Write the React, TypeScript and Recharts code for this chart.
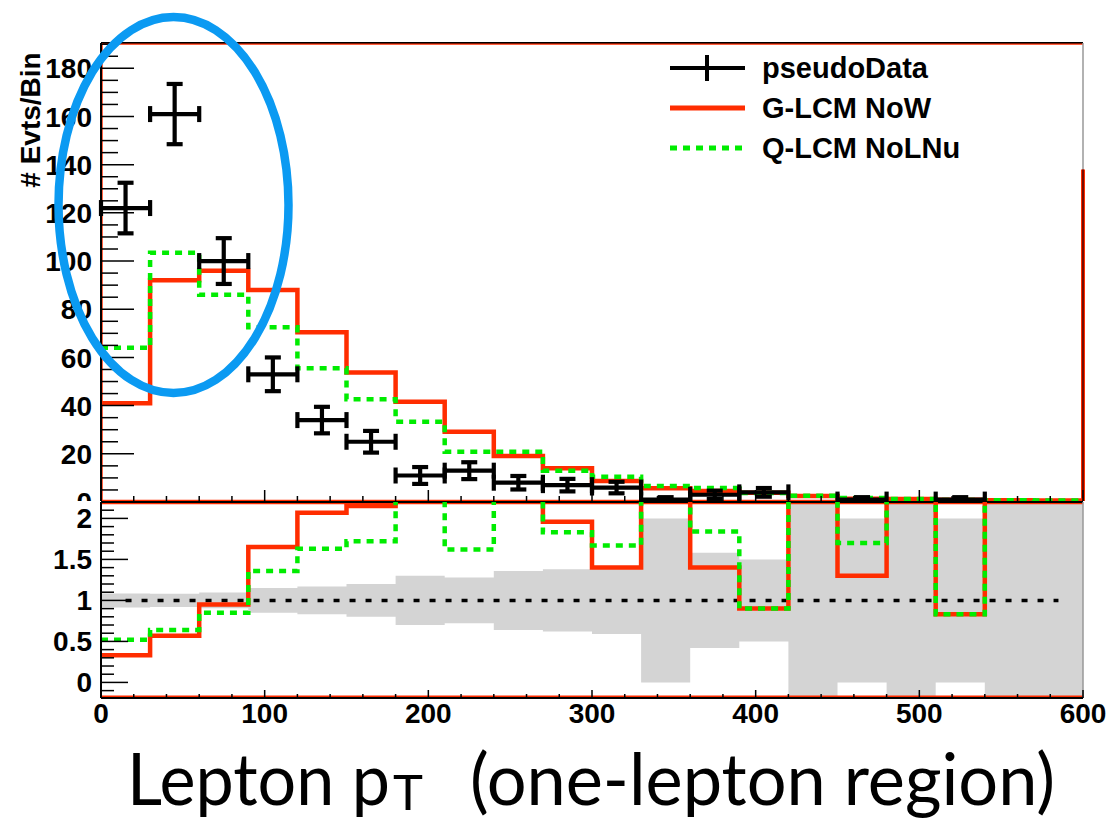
import React from "react"
import {
  ComposedChart, Line, Scatter, ErrorBar, Area, XAxis, YAxis, ReferenceLine,
} from "recharts"

// 20 bins of 30 GeV from 0 to 600
const binEdges = [0, 30, 60, 90, 120, 150, 180, 210, 240, 270, 300, 330, 360, 390, 420, 450, 480, 510, 540, 570, 600]
const binCenters = [15, 45, 75, 105, 135, 165, 195, 225, 255, 285, 315, 345, 375, 405, 435, 465, 495, 525, 555, 585]

const gLcmNoW = [41, 92, 96, 88, 70.5, 53.7, 41.6, 29.2, 19.1, 14, 8.7, 5.7, 4.6, 3.8, 2.5, 1.3, 1.2, 0.9, 0.7, 0.6]
const qLcmNoLNu = [64, 103.4, 86, 72.5, 55.5, 42.6, 33.3, 20.9, 20.9, 13, 10.5, 6.6, 5.8, 3.7, 2.6, 1.7, 1.2, 0.85, 0.75, 0.6]

// null = empty bin, nothing drawn
const pseudoData = [122, 161, 100, 53, 34, 25, 11, 13, 8, 7, 6, 1, 3, 4, null, 1, null, 1, null, null]
const pseudoErr = [10.5, 12.5, 9.5, 7, 5.5, 4.5, 3.5, 3.5, 2.8, 2.6, 2.4, 1, 1.7, 1.8, null, 1, null, 1, null, null]

// MC / data per bin; bins with few or no data events run off the top of the pad
const ratioGLcm = [0.33, 0.57, 0.95, 1.65, 2.07, 2.15, 3.8, 2.25, 2.4, 1.96, 1.4, 5.7, 1.4, 0.9, 9, 1.3, 9, 0.83, 9, 9]
const ratioQLcm = [0.52, 0.64, 0.85, 1.36, 1.63, 1.72, 3.0, 1.62, 2.6, 1.83, 1.67, 6.6, 1.84, 0.9, 9, 1.7, 9, 0.83, 9, 9]
// half width of the data uncertainty band around 1
const bandHalfWidth = [0.085, 0.08, 0.095, 0.15, 0.17, 0.2, 0.3, 0.28, 0.36, 0.38, 0.41, 1, 0.58, 0.5, 9, 1, 9, 1, 9, 9]

const xTicks = [0, 20, 40, 60, 80, 100, 120, 140, 160, 180, 200, 220, 240, 260, 280, 300, 320, 340, 360, 380, 400, 420, 440, 460, 480, 500, 520, 540, 560, 580, 600]
const topYTicks = Array.from({ length: 39 }, (_, i) => i * 5)
const ratioYTicks = Array.from({ length: 23 }, (_, i) => (i - 1) / 10)

const RED = "#ff2d00"
const GREEN = "#00ec00"
const rootFont = "'Liberation Sans', Arial, Helvetica, sans-serif"
const tickFont = { fontFamily: rootFont, fontWeight: 700, fontSize: 28, fill: "#000" }

// step histograms: the last value repeated at the upper edge closes the final bin
const histRows = binEdges.map((x, i) => ({
  x,
  g: gLcmNoW[Math.min(i, 19)],
  q: qLcmNoLNu[Math.min(i, 19)],
}))

const ratioRows = binEdges.map((x, i) => {
  const k = Math.min(i, 19)
  return {
    x,
    g: ratioGLcm[k],
    q: ratioQLcm[k],
    band: [1 - bandHalfWidth[k], 1 + bandHalfWidth[k]],
  }
})

const points = binCenters
  .map((x, i) => ({ x, y: pseudoData[i], ex: 15, ey: pseudoErr[i] }))
  .filter((p) => p.y !== null)

// ROOT style ticks point into the frame
const TopYTick = (props: any) => {
  const { x, y, payload } = props
  const v = payload.value
  const major = v % 20 === 0
  return (
    <g>
      <line x1={x} x2={x + (major ? 33 : 17)} y1={y} y2={y} stroke="#000" strokeWidth={1.5} />
      {major && v <= 180 && (
        <text x={x - 9} y={y} dy="0.36em" textAnchor="end" style={tickFont}>{v}</text>
      )}
    </g>
  )
}

const RatioYTick = (props: any) => {
  const { x, y, payload } = props
  const v = payload.value
  const major = Math.round(v * 10) % 5 === 0
  return (
    <g>
      <line x1={x} x2={x + (major ? 27 : 13)} y1={y} y2={y} stroke="#000" strokeWidth={1.5} />
      {major && (
        <text x={x - 9} y={y} dy="0.36em" textAnchor="end" style={tickFont}>{String(v)}</text>
      )}
    </g>
  )
}

const TopXTick = (props: any) => {
  const { x, y, payload } = props
  const major = payload.value % 100 === 0
  return <line x1={x} x2={x} y1={y} y2={y - (major ? 12 : 6)} stroke="#000" strokeWidth={1.5} />
}

const RatioXTick = (props: any) => {
  const { x, y, payload } = props
  const major = payload.value % 100 === 0
  return (
    <g>
      <line x1={x} x2={x} y1={y} y2={y - (major ? 8 : 4)} stroke="#000" strokeWidth={1.5} />
      {major && (
        <text x={x} y={y + 25} textAnchor="middle" style={tickFont}>{payload.value}</text>
      )}
    </g>
  )
}

const noMarker = () => <g />

function MainPad() {
  return (
    <ComposedChart width={1110} height={510} margin={{ top: 43, right: 27, bottom: 0, left: 0 }}>
      <XAxis
        type="number" dataKey="x" domain={[0, 600]} ticks={xTicks} interval={0}
        height={8} tickSize={0} tickMargin={0} tickLine={false}
        axisLine={{ stroke: "#000", strokeWidth: 2 }} tick={TopXTick} allowDataOverflow
      />
      <YAxis
        type="number" domain={[0, 190.5]} ticks={topYTicks} interval={0}
        width={101} tickSize={0} tickMargin={0} tickLine={false}
        axisLine={{ stroke: "#000", strokeWidth: 2 }} tick={TopYTick} allowDataOverflow
      />
      <ReferenceLine y={190.5} stroke="#000" strokeWidth={2} ifOverflow="visible" />
      <ReferenceLine y={190} stroke={RED} strokeWidth={1.2} ifOverflow="visible" />
      <ReferenceLine x={0.7} stroke={RED} strokeWidth={1.2} ifOverflow="visible" />
      <ReferenceLine y={0.5} stroke={RED} strokeWidth={2} ifOverflow="visible" />
      <ReferenceLine x={600} stroke="#999" strokeWidth={1.5} ifOverflow="visible" />
      <ReferenceLine segment={[{ x: 600, y: 0 }, { x: 600, y: 138 }]} stroke={RED} strokeWidth={4} ifOverflow="visible" />
      <ReferenceLine segment={[{ x: 600, y: 0 }, { x: 600, y: 138 }]} stroke="#4a0000" strokeWidth={1.5} ifOverflow="visible" />
      <Line data={histRows} dataKey="g" type="stepAfter" stroke={RED} strokeWidth={4.5}
        dot={false} activeDot={false} isAnimationActive={false} />
      <Line data={histRows} dataKey="q" type="stepAfter" stroke={GREEN} strokeWidth={4.5}
        strokeDasharray="7 6" dot={false} activeDot={false} isAnimationActive={false} />
      <Scatter data={points} dataKey="y" shape={noMarker} isAnimationActive={false}>
        <ErrorBar dataKey="ey" direction="y" width={8} stroke="#000" strokeWidth={4.2} isAnimationActive={false} />
        <ErrorBar dataKey="ex" direction="x" width={8} stroke="#000" strokeWidth={4.2} isAnimationActive={false} />
      </Scatter>
    </ComposedChart>
  )
}

function RatioPad() {
  return (
    <ComposedChart width={1110} height={241} margin={{ top: 1, right: 27, bottom: 0, left: 0 }}>
      <XAxis
        type="number" dataKey="x" domain={[0, 600]} ticks={xTicks} interval={0}
        height={44} tickSize={0} tickMargin={0} tickLine={false}
        axisLine={{ stroke: "#000", strokeWidth: 2 }} tick={RatioXTick} allowDataOverflow
      />
      <YAxis
        type="number" domain={[-0.19, 2.2]} ticks={ratioYTicks} interval={0}
        width={101} tickSize={0} tickMargin={0} tickLine={false}
        axisLine={{ stroke: "#000", strokeWidth: 2 }} tick={RatioYTick} allowDataOverflow
      />
      <ReferenceLine y={-0.17} stroke={RED} strokeWidth={1.5} ifOverflow="visible" />
      <Area data={ratioRows} dataKey="band" type="stepAfter" fill="#d4d4d4" fillOpacity={1}
        stroke="none" dot={false} activeDot={false} isAnimationActive={false} />
      <ReferenceLine y={2.2} stroke="#000" strokeWidth={2} ifOverflow="visible" />
      <ReferenceLine y={2.18} stroke={RED} strokeWidth={1.2} ifOverflow="visible" />
      <ReferenceLine x={600} stroke="#999" strokeWidth={1.5} ifOverflow="visible" />
      <ReferenceLine segment={[{ x: 15, y: 1 }, { x: 585, y: 1 }]} stroke="#000" strokeWidth={3.5}
        strokeDasharray="6 10" ifOverflow="visible" />
      <Line data={ratioRows} dataKey="g" type="stepAfter" stroke={RED} strokeWidth={4.5}
        dot={false} activeDot={false} isAnimationActive={false} />
      <Line data={ratioRows} dataKey="q" type="stepAfter" stroke={GREEN} strokeWidth={4.5}
        strokeDasharray="7 6" dot={false} activeDot={false} isAnimationActive={false} />
    </ComposedChart>
  )
}

function Overlay() {
  const legendText = { fontFamily: rootFont, fontWeight: 700, fontSize: 29, fill: "#000" }
  const titleFont = { fontFamily: "Lato, 'Open Sans', sans-serif", fill: "#000" }
  return (
    <svg width={1110} height={820} style={{ position: "absolute", left: 0, top: 0, pointerEvents: "none" }}>
      <text transform="rotate(-90)" x={-120} y={40} textAnchor="middle"
        style={{ fontFamily: rootFont, fontWeight: 700, fontSize: 28, fill: "#000" }}>
        # Evts/Bin
      </text>

      <line x1={670} x2={745} y1={68} y2={68} stroke="#000" strokeWidth={4} />
      <line x1={707} x2={707} y1={55} y2={81} stroke="#000" strokeWidth={4} />
      <text x={762} y={68} dy="0.36em" style={legendText}>pseudoData</text>
      <line x1={670} x2={745} y1={108} y2={108} stroke={RED} strokeWidth={5} />
      <text x={762} y={108} dy="0.36em" style={legendText}>G-LCM NoW</text>
      <line x1={670} x2={745} y1={148} y2={148} stroke={GREEN} strokeWidth={5} strokeDasharray="7 6" />
      <text x={762} y={148} dy="0.36em" style={legendText}>Q-LCM NoLNu</text>

      <ellipse cx={173.5} cy={205} rx={115} ry={188} fill="none" stroke="#0b9af2" strokeWidth={8.5} />

      <text x={127} y={805} textLength={263} lengthAdjust="spacingAndGlyphs" style={{ ...titleFont, fontSize: 72 }}>
        Lepton p
      </text>
      <text x={393} y={810} textLength={30} lengthAdjust="spacingAndGlyphs" style={{ ...titleFont, fontSize: 48 }}>
        T
      </text>
      <text x={470} y={805} textLength={585} lengthAdjust="spacingAndGlyphs" style={{ ...titleFont, fontSize: 72 }}>
        (one-lepton region)
      </text>
    </svg>
  )
}

export default function App() {
  return (
    <div style={{ position: "absolute", left: 0, top: 0, width: 1110, height: 820, background: "#fff" }}>
      <div style={{ position: "absolute", left: 0, top: 0 }}>
        <MainPad />
      </div>
      <div style={{ position: "absolute", left: 0, top: 501, background: "#fff" }}>
        <RatioPad />
      </div>
      <Overlay />
    </div>
  )
}
